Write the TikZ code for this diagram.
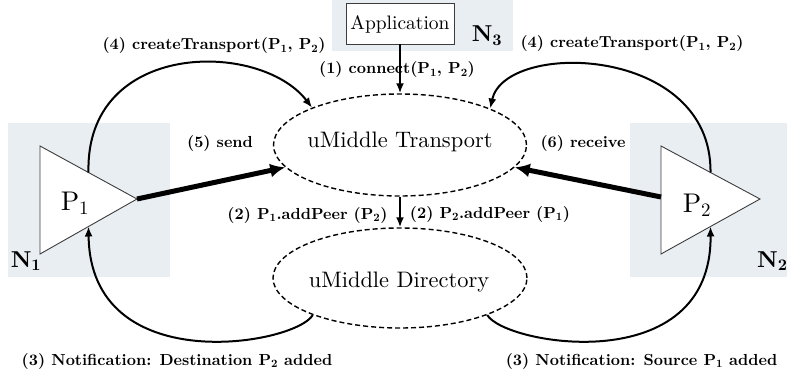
\documentclass[tikz,border=0pt]{standalone}
\usepackage{fontspec}
\setmainfont{lmroman10-regular.otf}[BoldFont=lmroman10-bold.otf]
\usetikzlibrary{arrows.meta,shapes.geometric,calc}
\definecolor{shade}{RGB}{233,238,243}
\definecolor{edgegray}{RGB}{60,60,60}
\tikzset{
  region/.style={fill=shade, draw=none},
  peer/.style={draw=edgegray, line width=0.9pt, fill=white},
  cloud/.style={draw=black, ellipse, dashed, dash pattern=on 5pt off 3pt, line width=1.4pt, inner sep=0pt},
  appbox/.style={draw=edgegray, line width=0.9pt, fill=white, minimum width=108pt, minimum height=41pt, inner sep=0pt},
  lbl/.style={font=\fontsize{16}{18}\selectfont\bfseries, inner sep=0pt, anchor=base},
  big/.style={font=\fontsize{22.4}{26}\selectfont, inner sep=0pt, anchor=base},
  plbl/.style={font=\fontsize{27}{30}\selectfont, inner sep=0pt, anchor=base},
  nlbl/.style={font=\fontsize{23}{26}\selectfont\bfseries, inner sep=0pt, anchor=base},
  flow/.style={line width=2pt, -{Latex[length=10pt,width=8pt]}},
  thick flow/.style={line width=5pt, -{Latex[length=15pt,width=14pt]}},
}
\begin{document}
\begin{tikzpicture}[x=1pt,y=-1pt]
\useasboundingbox (0,0) rectangle (787,377);
% node regions
\fill[region] (8,123) rectangle (170,277);
\fill[region] (630,123) rectangle (787,277);
\fill[region] (332,0) rectangle (513,51);
% peers
\coordinate (p1nw) at (40,146);
\coordinate (p1sw) at (40,254);
\coordinate (p1e) at (137,199);
\coordinate (p2nw) at (661,146);
\coordinate (p2sw) at (661,254);
\coordinate (p2e) at (760,199);
\draw[peer] (p1nw) -- (p1e) -- (p1sw) -- cycle;
\draw[peer] (p2nw) -- (p2e) -- (p2sw) -- cycle;
\coordinate (p1top) at ($(p1nw)!0.5!(p1e)$);
\coordinate (p1bot) at ($(p1sw)!0.5!(p1e)$);
\coordinate (p2top) at ($(p2nw)!0.5!(p2e)$);
\coordinate (p2bot) at ($(p2sw)!0.5!(p2e)$);
\coordinate (p2in) at (661,197);
\node[plbl] (p1) at (75,210) {P\textsubscript{1}};
\node[plbl] (p2) at (697,212) {P\textsubscript{2}};
\node[nlbl] (n1) at (26,267) {N\textsubscript{1}};
\node[nlbl, anchor=base west] (n2) at (757,267) {N\textsubscript{2}};
\node[nlbl] (n3) at (487,42) {N\textsubscript{3}};
% application
\node[appbox] (app) at (400,23.5) {};
\node[inner sep=0pt, anchor=base, font=\fontsize{19.5}{22}\selectfont] (apptext) at (400,30) {Application};
% clouds
\node[cloud, minimum width=253pt, minimum height=102pt] (transport) at (400,145) {};
\node[big] (transporttext) at (400,148) {uMiddle Transport};
\node[cloud, minimum width=254pt, minimum height=100pt] (directory) at (400,278) {};
\node[big] (directorytext) at (399,287) {uMiddle Directory};
% arrows
\draw[flow] (app.south) -- (transport.north);
\draw[flow] (transport.south) -- (directory.north);
\draw[thick flow] (p1e) -- (transport.191);
\draw[thick flow] (p2in) -- (transport.-11.5);
\draw[flow] (p1top) .. controls (85,40) and (260,40) .. (transport.157.6);
\draw[flow] (p2top) .. controls (712,45) and (505,40) .. (transport.22.8);
\draw[flow] (directory.203.4) .. controls (295,345) and (90,380) .. (p1bot);
\draw[flow] (directory.337.1) .. controls (505,345) and (712,380) .. (p2bot);
% labels
\node[lbl] (l4a) at (214,50) {(4) createTransport(P\textsubscript{1}, P\textsubscript{2})};
\node[lbl] (l4b) at (632,48) {(4) createTransport(P\textsubscript{1}, P\textsubscript{2})};
\node[lbl] (l1) at (397,74) {(1) connect(P\textsubscript{1}, P\textsubscript{2})};
\node[lbl] (l5) at (220,147) {(5) send};
\node[lbl] (l6) at (583,147) {(6) receive};
\node[lbl] (l2a) at (307.5,219) {(2) P\textsubscript{1}.addPeer (P\textsubscript{2})};
\node[lbl] (l2b) at (490,218) {(2) P\textsubscript{2}.addPeer (P\textsubscript{1})};
\node[lbl] (l3a) at (177,365) {(3) Notification: Destination P\textsubscript{2} added};
\node[lbl] (l3b) at (641.5,365) {(3) Notification: Source P\textsubscript{1} added};
\end{tikzpicture}
\end{document}
